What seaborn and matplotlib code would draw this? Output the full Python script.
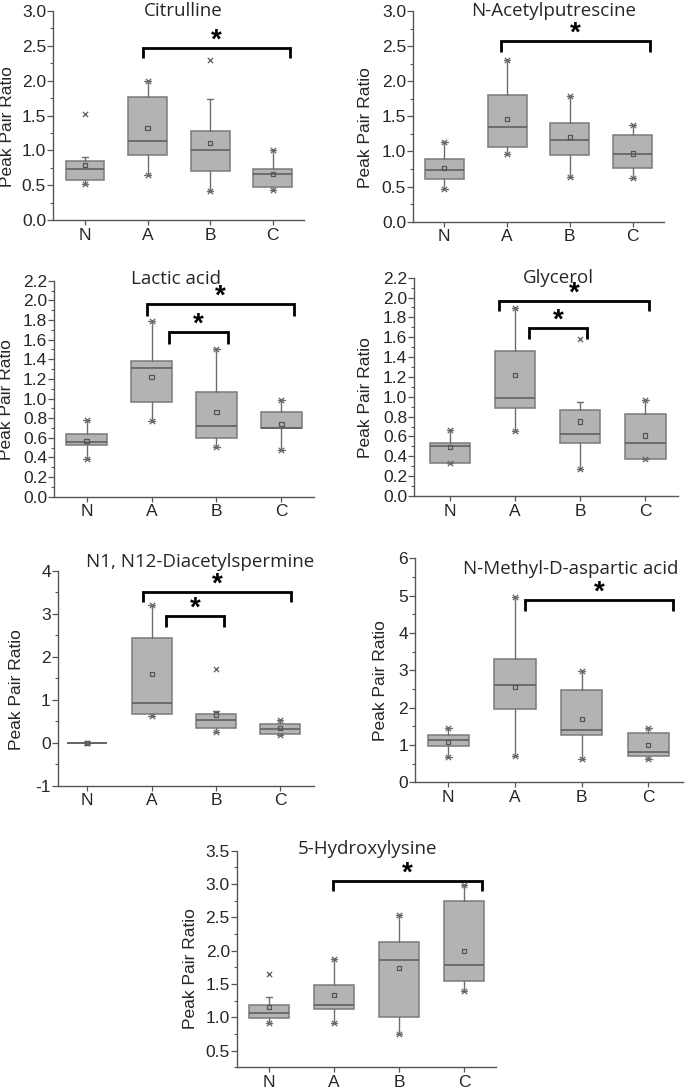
import numpy as np
import pandas as pd
import matplotlib
matplotlib.use("Agg")
import matplotlib.pyplot as plt
from matplotlib.ticker import MultipleLocator, FormatStrFormatter
import seaborn as sns

# ---------------- data ----------------
GROUPS = ["N", "A", "B", "C"]

CIT_Q1 = [0.58, 0.93, 0.71, 0.47]
CIT_MED = [0.73, 1.14, 1.00, 0.66]
CIT_Q3 = [0.84, 1.77, 1.28, 0.73]
CIT_WLO = [0.52, 0.65, 0.42, 0.43]
CIT_WHI = [0.91, 2.00, 1.73, 1.00]
CIT_MEAN = [0.79, 1.32, 1.11, 0.66]
CIT_MLO = [0.52, 0.65, 0.42, 0.43]
CIT_MHI = [1.52, 2.00, 2.29, 1.00]

NAP_Q1 = [0.61, 1.07, 0.95, 0.77]
NAP_MED = [0.73, 1.35, 1.16, 0.96]
NAP_Q3 = [0.89, 1.81, 1.41, 1.24]
NAP_WLO = [0.46, 0.96, 0.63, 0.62]
NAP_WHI = [1.13, 2.30, 1.79, 1.37]
NAP_MEAN = [0.76, 1.46, 1.21, 0.97]
NAP_MLO = [0.46, 0.96, 0.63, 0.62]
NAP_MHI = [1.13, 2.30, 1.79, 1.37]

LAC_Q1 = [0.53, 0.96, 0.60, 0.70]
LAC_MED = [0.56, 1.31, 0.72, 0.70]
LAC_Q3 = [0.64, 1.38, 1.07, 0.86]
LAC_WLO = [0.38, 0.77, 0.51, 0.48]
LAC_WHI = [0.78, 1.79, 1.50, 0.98]
LAC_MEAN = [0.57, 1.22, 0.86, 0.74]
LAC_MLO = [0.38, 0.77, 0.51, 0.48]
LAC_MHI = [0.78, 1.79, 1.50, 0.98]

GLY_Q1 = [0.33, 0.89, 0.53, 0.37]
GLY_MED = [0.50, 0.99, 0.62, 0.53]
GLY_Q3 = [0.53, 1.46, 0.87, 0.83]
GLY_WLO = [0.33, 0.66, 0.27, 0.37]
GLY_WHI = [0.67, 1.89, 0.95, 0.97]
GLY_MEAN = [0.49, 1.22, 0.75, 0.61]
GLY_MLO = [0.33, 0.66, 0.27, 0.37]
GLY_MHI = [0.67, 1.89, 1.58, 0.97]

DAS_Q1 = [0.0, 0.68, 0.35, 0.20]
DAS_MED = [0.0, 0.93, 0.52, 0.31]
DAS_Q3 = [0.0, 2.45, 0.68, 0.44]
DAS_WLO = [0.0, 0.62, 0.24, 0.18]
DAS_WHI = [0.0, 3.21, 0.75, 0.52]
DAS_MEAN = [0.0, 1.60, 0.66, 0.34]
DAS_MLO = [0.0, 0.62, 0.24, 0.18]
DAS_MHI = [0.0, 3.21, 1.72, 0.52]

NMDA_Q1 = [0.97, 1.96, 1.26, 0.71]
NMDA_MED = [1.13, 2.60, 1.39, 0.81]
NMDA_Q3 = [1.27, 3.31, 2.46, 1.32]
NMDA_WLO = [0.67, 0.70, 0.62, 0.62]
NMDA_WHI = [1.45, 4.95, 2.99, 1.45]
NMDA_MEAN = [1.09, 2.56, 1.69, 0.99]
NMDA_MLO = [0.67, 0.70, 0.62, 0.62]
NMDA_MHI = [1.45, 4.95, 2.99, 1.45]

HYL_Q1 = [0.99, 1.13, 1.01, 1.54]
HYL_MED = [1.07, 1.19, 1.86, 1.78]
HYL_Q3 = [1.18, 1.48, 2.13, 2.75]
HYL_WLO = [0.92, 0.92, 0.75, 1.39]
HYL_WHI = [1.30, 1.87, 2.54, 2.98]
HYL_MEAN = [1.16, 1.33, 1.74, 1.99]
HYL_MLO = [0.92, 0.92, 0.75, 1.39]
HYL_MHI = [1.65, 1.87, 2.54, 2.98]

TITLES = ["Citrulline", "N-Acetylputrescine", "Lactic acid", "Glycerol",
          "N1, N12-Diacetylspermine", "N-Methyl-D-aspartic acid", "5-Hydroxylysine"]

# significance brackets: (x start, x end, top y, leg bottom y)
CIT_SIG = [(0.92, 3.28, 2.47, 2.32)]
NAP_SIG = [(0.90, 3.27, 2.57, 2.41)]
LAC_SIG = [(0.93, 3.19, 1.96, 1.84), (1.27, 2.18, 1.68, 1.56)]
GLY_SIG = [(0.76, 3.05, 1.965, 1.86), (1.215, 2.11, 1.69, 1.58)]
DAS_SIG = [(0.87, 3.17, 3.52, 3.27), (1.22, 2.13, 2.95, 2.69)]
NMDA_SIG = [(1.15, 3.375, 4.88, 4.60)]
HYL_SIG = [(0.985, 3.27, 3.05, 2.895)]

PANEL_DATA = [
    (CIT_Q1, CIT_MED, CIT_Q3, CIT_WLO, CIT_WHI, CIT_MEAN, CIT_MLO, CIT_MHI, CIT_SIG),
    (NAP_Q1, NAP_MED, NAP_Q3, NAP_WLO, NAP_WHI, NAP_MEAN, NAP_MLO, NAP_MHI, NAP_SIG),
    (LAC_Q1, LAC_MED, LAC_Q3, LAC_WLO, LAC_WHI, LAC_MEAN, LAC_MLO, LAC_MHI, LAC_SIG),
    (GLY_Q1, GLY_MED, GLY_Q3, GLY_WLO, GLY_WHI, GLY_MEAN, GLY_MLO, GLY_MHI, GLY_SIG),
    (DAS_Q1, DAS_MED, DAS_Q3, DAS_WLO, DAS_WHI, DAS_MEAN, DAS_MLO, DAS_MHI, DAS_SIG),
    (NMDA_Q1, NMDA_MED, NMDA_Q3, NMDA_WLO, NMDA_WHI, NMDA_MEAN, NMDA_MLO, NMDA_MHI, NMDA_SIG),
    (HYL_Q1, HYL_MED, HYL_Q3, HYL_WLO, HYL_WHI, HYL_MEAN, HYL_MLO, HYL_MHI, HYL_SIG),
]

# ---------------- layout (pixels in a 685 x 1089 figure) ----------------
W, H = 685, 1089
# left, right, top, bottom in pixels
RECTS = [(53, 304, 11, 220), (413, 664, 11, 221.7),
         (54, 314, 280.7, 496.7), (414, 678, 277.7, 496),
         (57.7, 313.7, 571, 785.7), (415, 683, 558.3, 782.3),
         (236.7, 496, 850.7, 1067.3)]
XLIMS = [(-0.51, 3.5), (-0.5, 3.5), (-0.5, 3.5), (-0.55, 3.5),
         (-0.46, 3.52), (-0.5, 3.52), (-0.5, 3.49)]
YLIMS = [(0, 3.0), (0, 3.0), (0, 2.2), (0, 2.2), (-1, 4), (0, 6), (0.25, 3.5)]
YMAJ = [0.5, 0.5, 0.2, 0.2, 1, 1, 0.5]
YMIN = [0.25, 0.25, 0.1, 0.1, 0.5, 0.5, 0.25]
YFMT = ["%.1f", "%.1f", "%.1f", "%.1f", "%d", "%d", "%.1f"]
TITLE_POS = [(0.52, 1.0), (0.56, 1.0), (0.47, 1.01), (0.545, 1.0),
             (0.556, 1.043), (0.58, 0.952), (0.506, 1.006)]
YLABEL_POS = [(-0.151, 0.446), (-0.159, 0.446), (-0.153, 0.448), (-0.156, 0.451),
              (-0.130, 0.446), (-0.102, 0.453), (-0.150, 0.454)]

sns.set_style("ticks")
plt.rcParams["font.family"] = ["Liberation Sans", "DejaVu Sans"]

BOX_FILL = "#b3b3b3"
BOX_EDGE = "#7a7a7a"
LINE_C = "#6e6e6e"
SPINE_C = "#555555"

fig = plt.figure(figsize=(W / 100, H / 100), dpi=100)

for i, (q1, med, q3, wlo, whi, mean, mlo, mhi, sig) in enumerate(PANEL_DATA):
    l, r, t, b = RECTS[i]
    ax = fig.add_axes([l / W, 1 - b / H, (r - l) / W, (b - t) / H])
    stats = []
    for k, g in enumerate(GROUPS):
        stats.append(dict(label=g, q1=q1[k], med=med[k], q3=q3[k],
                          whislo=wlo[k], whishi=whi[k], fliers=[]))
    ax.bxp(stats, positions=range(len(GROUPS)), widths=0.62, patch_artist=True,
           showfliers=False, capwidths=0.1,
           boxprops=dict(facecolor=BOX_FILL, edgecolor=BOX_EDGE, linewidth=1.1),
           medianprops=dict(color="#5a5a5a", linewidth=1.1),
           whiskerprops=dict(color=LINE_C, linewidth=1.0),
           capprops=dict(color=LINE_C, linewidth=1.0))
    pos = np.arange(len(GROUPS))
    df_mean = pd.DataFrame({"x": pos, "y": mean})
    df_ext = pd.DataFrame({"x": np.concatenate([pos, pos]),
                           "y": np.concatenate([mlo, mhi])})
    sns.scatterplot(data=df_ext, x="x", y="y", ax=ax, marker="x", s=14,
                    color="#6a6a6a", linewidth=1.0, zorder=5, legend=False)
    sns.scatterplot(data=df_mean, x="x", y="y", ax=ax, marker="s", s=9,
                    facecolor="none", edgecolor="#555555", linewidth=0.9,
                    zorder=6, legend=False)

    for (x0, x1, yt, yb) in sig:
        ax.plot([x0, x0, x1, x1], [yb, yt, yt, yb], color="black", lw=2.0,
                solid_joinstyle="miter", solid_capstyle="butt", zorder=7,
                clip_on=False)
        ax.annotate("*", xy=((x0 + x1) / 2, yt), xytext=(0, -4),
                    textcoords="offset points", ha="center", va="bottom",
                    fontsize=20, fontweight="bold", color="black",
                    annotation_clip=False)

    ax.set_xlim(*XLIMS[i])
    ax.set_ylim(*YLIMS[i])
    ax.set_xticks(pos)
    ax.set_xticklabels(GROUPS, fontsize=12.5)
    ax.yaxis.set_major_locator(MultipleLocator(YMAJ[i]))
    ax.yaxis.set_minor_locator(MultipleLocator(YMIN[i]))
    ax.yaxis.set_major_formatter(FormatStrFormatter(YFMT[i]))
    ax.tick_params(axis="y", which="major", labelsize=12.5, length=4,
                   width=0.9, color=SPINE_C, pad=1)
    ax.tick_params(axis="y", which="minor", length=2.5, width=0.8, color=SPINE_C)
    ax.tick_params(axis="x", which="major", length=3.5, width=0.9,
                   color=SPINE_C, pad=2)
    for s in ["top", "right"]:
        ax.spines[s].set_visible(False)
    for s in ["left", "bottom"]:
        ax.spines[s].set_color(SPINE_C)
        ax.spines[s].set_linewidth(1.0)
    ax.set_xlabel("")
    ax.set_ylabel("Peak Pair Ratio", fontsize=12.5)
    ax.yaxis.set_label_coords(*YLABEL_POS[i])
    tx, ty = TITLE_POS[i]
    ax.text(tx, ty, TITLES[i], transform=ax.transAxes, ha="center", va="center",
            fontsize=13.5, family=["Open Sans", "DejaVu Sans"])

fig.savefig("out.png", dpi=100)
